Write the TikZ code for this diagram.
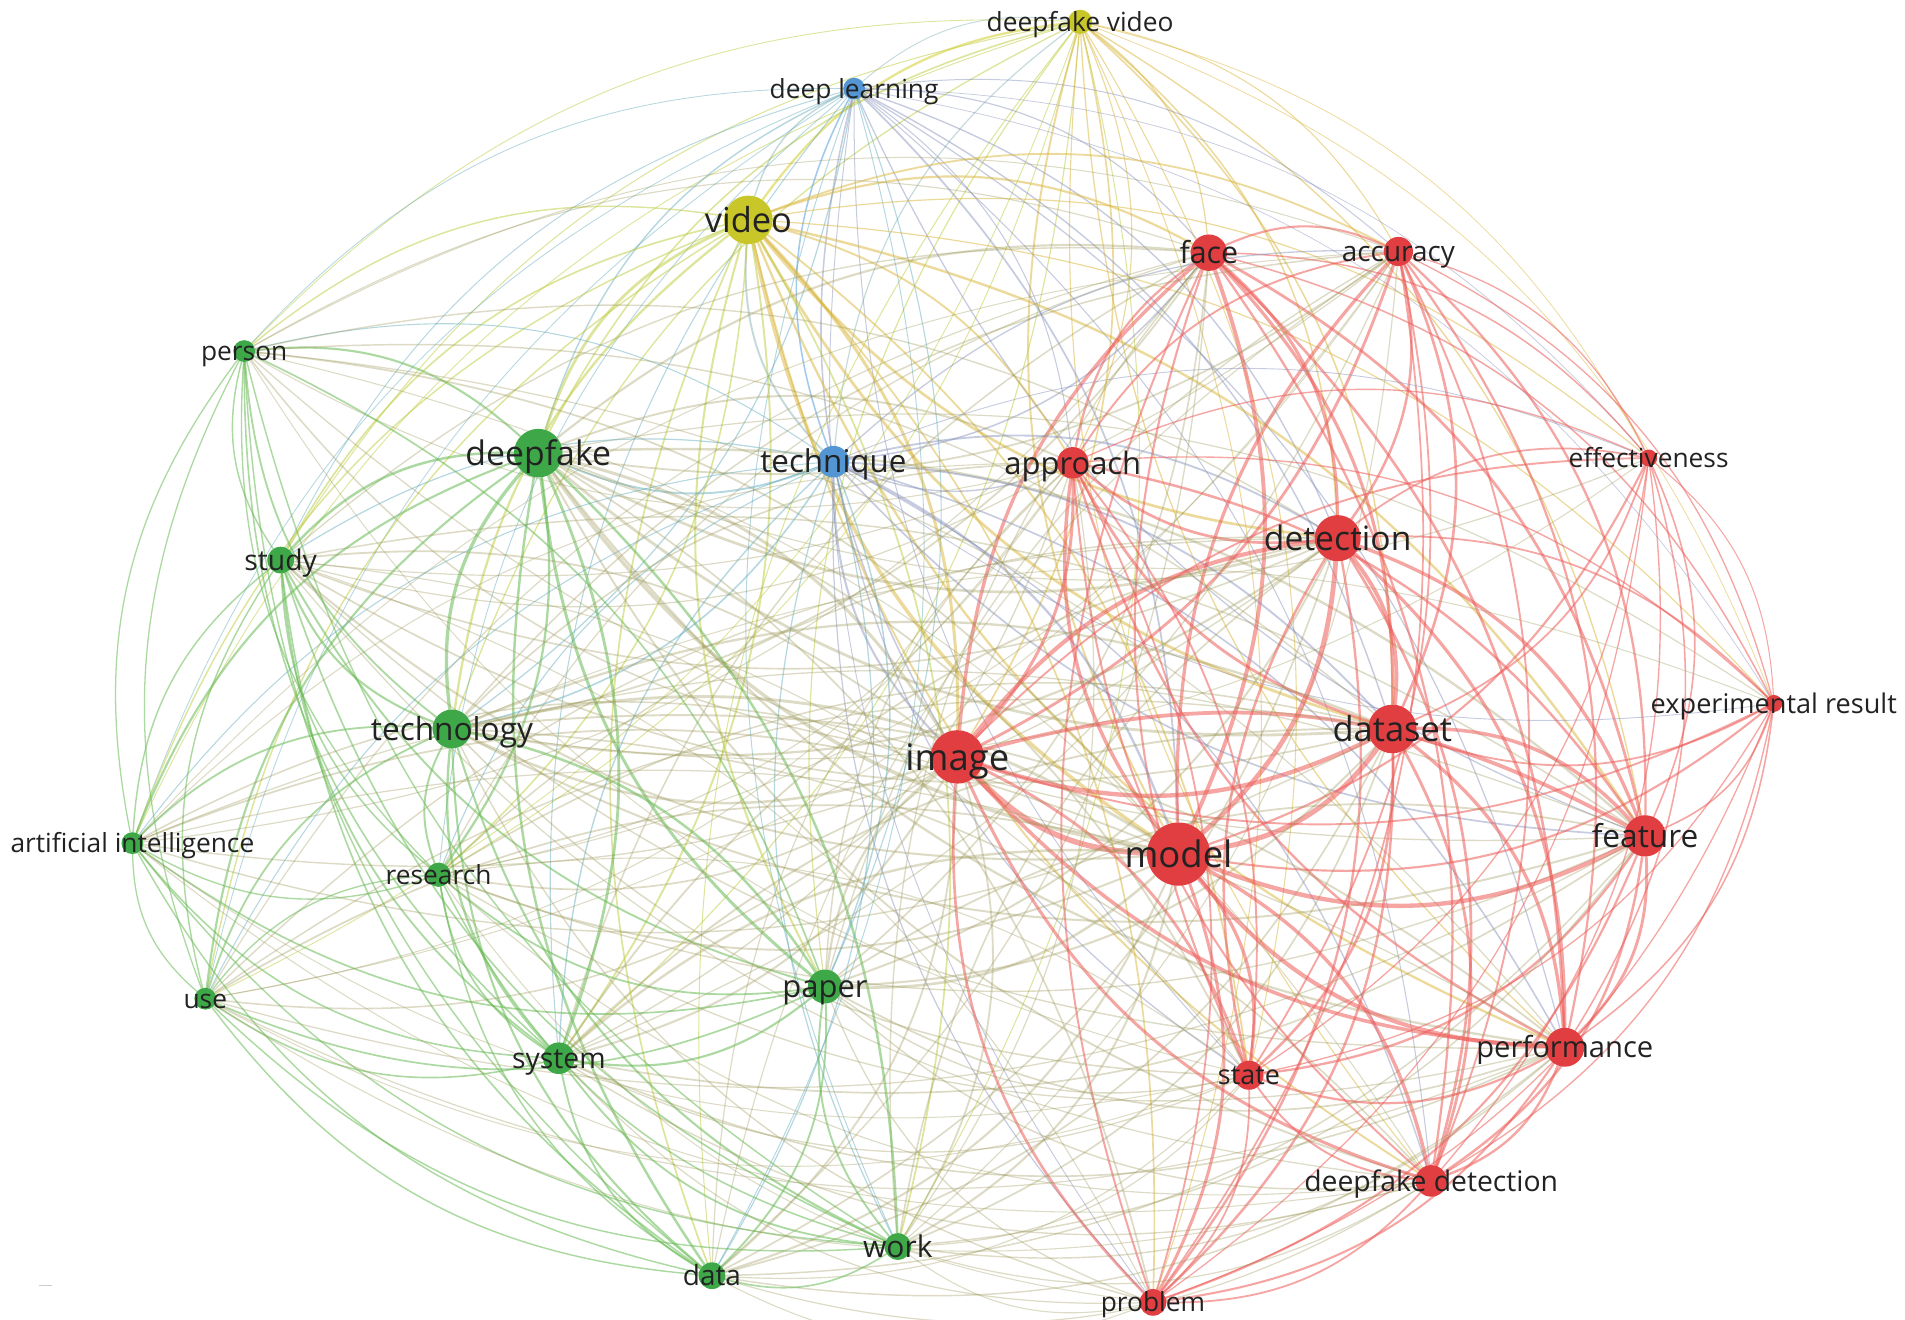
\documentclass[tikz,border=0pt]{standalone}
\usepackage{fontspec}
\setmainfont{Open Sans}
\definecolor{cR}{RGB}{224,62,64}
\definecolor{cG}{RGB}{62,168,72}
\definecolor{cY}{RGB}{200,198,40}
\definecolor{cB}{RGB}{84,150,212}
\definecolor{eR}{RGB}{236,92,88}
\definecolor{eG}{RGB}{104,186,84}
\definecolor{eY}{RGB}{212,206,50}
\definecolor{eB}{RGB}{88,158,222}
\definecolor{labtext}{RGB}{34,34,34}
\pgfdeclarelayer{edgelayer}
\pgfsetlayers{edgelayer,main}
\begin{document}
\begin{tikzpicture}[x=0.6pt,y=0.6pt,
  kw/.style={circle,inner sep=0pt,outer sep=0pt,draw=none},
  lab/.style={text=labtext,inner sep=0pt,anchor=base}]
\useasboundingbox (0,0) rectangle (1568,1086);
\foreach \i/\x/\y/\r/\c/\t/\f in {
 1/889/18/10/Y/deepfake video/13,
 2/703/73/9/B/deep learning/13,
 3/616/181/20/Y/video/17,
 4/995/208/15/R/face/15,
 5/1151/207/12/R/accuracy/13.8,
 6/201/289/9/G/person/13,
 7/443/373/20/G/deepfake/16.7,
 8/686/380/13/B/technique/15.5,
 9/883/381/13/R/approach/15.3,
 10/1357/377/7/R/effectiveness/13,
 11/231/461/11/G/study/14,
 12/1101/443/19/R/detection/16.6,
 13/1460/579/7/R/experimental result/13.4,
 14/372/600/16/G/technology/15.6,
 15/788/623/22/R/image/18,
 16/1146/600/20/R/dataset/17,
 17/1354/688/17/R/feature/15.6,
 18/109/694/9/G/artificial intelligence/13,
 19/361/720/10/G/research/13,
 20/970/703/26/R/model/18,
 21/169/822/9/G/use/13,
 22/679/812/14/G/paper/15.3,
 23/460/871/13/G/system/14,
 24/1288/862/16/R/performance/14.4,
 25/1028/885/12/R/state/13.3,
 26/1178/972/13/R/deepfake detection/14,
 27/739/1026/11/G/work/14.8,
 28/586/1050/11/G/data/13.8,
 29/949/1072/11/R/problem/13}{
  \pgfmathsetmacro\Y{1086-\y}
  \node[kw,minimum size={1.2pt*\r},fill=c\c] (n\i) at (\x,\Y) {};
  \expandafter\xdef\csname X\i\endcsname{\x}
  \expandafter\xdef\csname Y\i\endcsname{\Y}
  \expandafter\xdef\csname R\i\endcsname{\r}
  \expandafter\xdef\csname C\i\endcsname{\c}
  \expandafter\xdef\csname T\i\endcsname{\t}
  \expandafter\xdef\csname F\i\endcsname{\f}
}
\foreach \i in {1,...,29}{
  \edef\xx{\csname X\i\endcsname}\edef\yy{\csname Y\i\endcsname}\edef\ff{\csname F\i\endcsname}
  \pgfmathsetmacro\yb{\yy-0.6*\ff}
  \node[lab,font=\fontsize{\ff}{\ff}\selectfont] (t\i) at (\xx,\yb) {\csname T\i\endcsname};
}
\draw[black!20,line width=0.6pt] (32,28) coordinate (dashA) -- (43,28) coordinate (dashB);
\def\cY{Y}\def\cB{B}\def\cG{G}
\begin{pgfonlayer}{edgelayer}
\foreach \i in {1,...,28}{
  \pgfmathtruncatemacro\ii{\i+1}
  \foreach \j in {\ii,...,29}{
    \edef\xa{\csname X\i\endcsname}\edef\ya{\csname Y\i\endcsname}
    \edef\xb{\csname X\j\endcsname}\edef\yb{\csname Y\j\endcsname}
    \edef\ra{\csname R\i\endcsname}\edef\rb{\csname R\j\endcsname}
    \edef\ca{\csname C\i\endcsname}\edef\cb{\csname C\j\endcsname}
    \pgfmathsetmacro\side{(-(\yb-\ya)/100)*((\xa+\xb)/200-7.84)+((\xb-\xa)/100)*((\ya+\yb)/200-5.43)}
    \pgfmathsetmacro\dist{(((\xa+\xb)/2-784)/700)^2+(((\ya+\yb)/2-543)/500)^2}
    \pgfmathtruncatemacro\myparity{mod(\i+\j,2)}
    \pgfmathsetmacro\pprod{\ra*\rb}
    \ifdim\dist pt>0.30pt
      \ifdim\side pt>0pt \def\bd{24}\else\def\bd{-24}\fi
    \else
      \ifnum\myparity=0 \def\bd{22}\else\def\bd{-22}\fi
    \fi
    \ifx\ca\cb
      \pgfmathsetmacro\w{0.3+0.0042*\pprod}
      \draw[opacity=0.55,line width=\w pt,draw=e\ca] (n\i) to[bend left=\bd] (n\j);
    \else
      \def\ecol{eG!62!eR}\def\eop{0.34}\def\thr{100}
      \ifx\ca\cY \def\ecol{eY!78!e\cb}\def\eop{0.5}\def\thr{0}\fi
      \ifx\cb\cY \def\ecol{eY!78!e\ca}\def\eop{0.5}\def\thr{0}\fi
      \ifx\ca\cB \def\ecol{eB!72!e\cb}\def\eop{0.45}\def\thr{0}\fi
      \ifx\cb\cB \def\ecol{eB!72!e\ca}\def\eop{0.45}\def\thr{0}\fi
      \ifdim\pprod pt>\thr pt
        \pgfmathsetmacro\w{0.18+0.003*\pprod}
        \draw[opacity=\eop,line width=\w pt,draw=\ecol] (n\i) to[bend left=\bd] (n\j);
      \fi
    \fi
  }
}
\end{pgfonlayer}
\end{tikzpicture}
\end{document}
